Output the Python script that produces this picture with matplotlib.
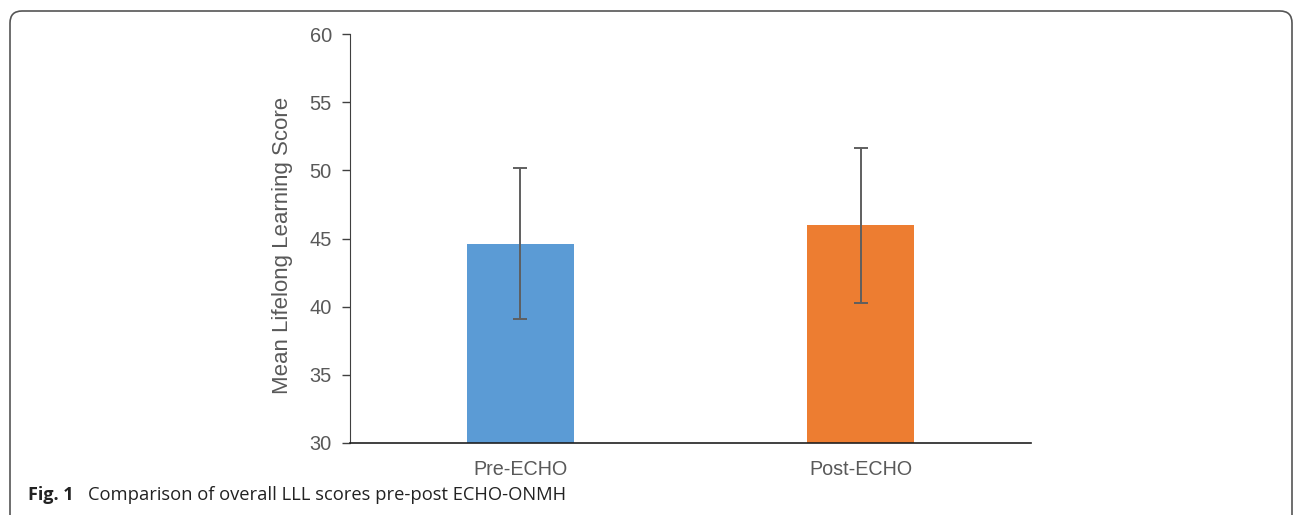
import matplotlib
matplotlib.use("Agg")
import matplotlib.pyplot as plt
from matplotlib.patches import FancyBboxPatch

categories = ["Pre-ECHO", "Post-ECHO"]
means = [44.63, 45.96]
errors = [5.55, 5.7]
bar_colors = ["#5B9BD5", "#ED7D31"]
y_ticks = [30, 35, 40, 45, 50, 55, 60]

plt.rcParams['font.family'] = ['Liberation Sans', 'DejaVu Sans']

fig = plt.figure(figsize=(12.96, 5.15), dpi=100)
ax = fig.add_axes([350/1296, 72/515, 681/1296, 409/515])

x = range(len(categories))
ax.bar(x, means, width=0.315, color=bar_colors, zorder=2)
ax.errorbar(x, means, yerr=errors, fmt='none', ecolor='#5f5f5f',
            elinewidth=1.4, capsize=5, capthick=1.4, zorder=3)

ax.set_xlim(-0.5, 1.5)
ax.set_ylim(30, 60)
ax.set_yticks(y_ticks)
ax.set_xticks(list(x))
ax.set_xticklabels(categories)
ax.tick_params(axis='y', direction='out', length=6, width=1, colors='#404040',
               labelcolor='#595959', labelsize=14.4, pad=7)
ax.tick_params(axis='x', length=0, labelcolor='#595959', labelsize=14.2, pad=12)
for s in ['top', 'right']:
    ax.spines[s].set_visible(False)
ax.spines['left'].set_color('#404040')
ax.spines['bottom'].set_color('#202020')
ax.spines['bottom'].set_linewidth(1.2)
ax.set_ylabel("Mean Lifelong Learning Score", fontsize=16, color='#595959')
ax.yaxis.set_label_coords(-0.083, 0.484)

# caption
fig.text(28/1296, 1 - 495/515, "Fig. 1", fontsize=13, fontweight='bold',
         family=['Open Sans', 'DejaVu Sans'], color='#222222', va='center')
fig.text(88/1296, 1 - 495/515, "Comparison of overall LLL scores pre-post ECHO-ONMH",
         fontsize=13.2, family=['Open Sans', 'DejaVu Sans'], color='#222222', va='center')

# rounded border (pixel coordinates)
box = FancyBboxPatch((10, -12), 1282, 515 - 11 + 12,
                     boxstyle="round,pad=0,rounding_size=12",
                     transform=None, fill=False, edgecolor='#555555',
                     linewidth=1.2)
fig.patches.append(box)

fig.savefig("out.png", dpi=100)
